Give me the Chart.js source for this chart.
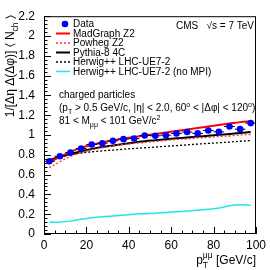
<!doctype html>
<html>
<head>
<meta charset="utf-8">
<script src="https://cdn.jsdelivr.net/npm/chart.js@4.4.0/dist/chart.umd.min.js"></script>
<style>
  html, body { margin: 0; padding: 0; background: #fff; }
  #wrap { width: 270px; height: 270px; }
</style>
</head>
<body>
<div id="wrap"><canvas id="chart" width="270" height="270"></canvas></div>
<script>
// bin centres in pT(mumu), GeV/c
var ptBins = [2.5, 7.5, 12.5, 17.5, 22.5, 27.5, 32.5, 37.5, 42.5, 47.5, 52.5, 57.5, 62.5, 67.5, 72.5, 77.5, 82.5, 87.5, 92.5, 97.5];
var binHalfWidth = 2.5;

var dataVals = [0.734, 0.785, 0.822, 0.863, 0.904, 0.917, 0.941, 0.958, 0.964, 0.995, 0.992, 0.998, 1.016, 1.030, 1.016, 1.046, 1.032, 1.086, 1.059, 1.120];
var dataErr  = [0.008, 0.008, 0.008, 0.008, 0.009, 0.009, 0.010, 0.010, 0.011, 0.011, 0.012, 0.012, 0.013, 0.013, 0.014, 0.014, 0.015, 0.016, 0.017, 0.018];

var madgraph = [0.720, 0.780, 0.830, 0.870, 0.900, 0.925, 0.945, 0.965, 0.980, 0.995, 1.010, 1.025, 1.040, 1.055, 1.070, 1.085, 1.100, 1.115, 1.130, 1.140];
var powheg   = [0.670, 0.730, 0.785, 0.820, 0.850, 0.870, 0.890, 0.905, 0.915, 0.925, 0.935, 0.945, 0.955, 0.960, 0.970, 0.975, 0.985, 0.990, 1.000, 1.005];
var pythia   = [0.745, 0.780, 0.810, 0.835, 0.860, 0.880, 0.895, 0.910, 0.925, 0.937, 0.947, 0.957, 0.966, 0.975, 0.984, 0.993, 1.002, 1.010, 1.020, 1.030];
var herwig   = [0.740, 0.775, 0.800, 0.818, 0.830, 0.840, 0.848, 0.856, 0.864, 0.871, 0.878, 0.886, 0.893, 0.900, 0.908, 0.915, 0.922, 0.929, 0.937, 0.944];
var herwigNoMpi = [0.120, 0.120, 0.130, 0.150, 0.165, 0.175, 0.182, 0.190, 0.200, 0.205, 0.210, 0.218, 0.225, 0.232, 0.240, 0.250, 0.262, 0.285, 0.295, 0.290];

var legendLabels = ['Data', 'MadGraph Z2', 'Powheg Z2', 'Pythia-8 4C', 'Herwig++ LHC-UE7-2', 'Herwig++ LHC-UE7-2 (no MPI)'];

var FONT = '"Liberation Sans", Arial, Helvetica, sans-serif';

function pts(vals) {
    return ptBins.map(function (x, i) { return { x: x, y: vals[i] }; });
}

function lineSet(label, vals, color, width, dash) {
    return {
        label: label, data: pts(vals), borderColor: color, borderWidth: width,
        borderDash: dash || [], pointRadius: 0, tension: 0.35, fill: false
    };
}

// draws text made of normal / sub / sup pieces, starting at x, baseline y
function richText(ctx, parts, x, y, size) {
    parts.forEach(function (p) {
        var s = size, dy = 0;
        if (p.k === 'sub') { s = size * 0.7; dy = size * 0.3; }
        if (p.k === 'sup') { s = size * 0.7; dy = -size * 0.45; }
        ctx.font = s + 'px ' + FONT;
        ctx.fillText(p.t, x, y + dy);
        x += ctx.measureText(p.t).width;
    });
    return x;
}
function richWidth(ctx, parts, size) {
    var w = 0;
    parts.forEach(function (p) {
        var s = (p.k === 'sub' || p.k === 'sup') ? size * 0.7 : size;
        ctx.font = s + 'px ' + FONT;
        w += ctx.measureText(p.t).width;
    });
    return w;
}

var decor = {
    id: 'decor',
    beforeDatasetDraw: function (chart, args) {
        // error bars, under the data markers but above the curves
        if (args.index !== 0) return;
        var ctx = chart.ctx, xs = chart.scales.x, ys = chart.scales.y;
        ctx.save();
        ctx.strokeStyle = '#000';
        ctx.lineWidth = 1;
        ptBins.forEach(function (x, i) {
            var py = ys.getPixelForValue(dataVals[i]);
            var x0 = xs.getPixelForValue(x - binHalfWidth), x1 = xs.getPixelForValue(x + binHalfWidth);
            var y0 = ys.getPixelForValue(dataVals[i] - dataErr[i]), y1 = ys.getPixelForValue(dataVals[i] + dataErr[i]);
            var px = xs.getPixelForValue(x);
            ctx.beginPath();
            ctx.moveTo(x0, py); ctx.lineTo(x1, py);
            ctx.moveTo(px, y0); ctx.lineTo(px, y1);
            ctx.stroke();
        });
        ctx.restore();
    },
    afterDraw: function (chart) {
        var ctx = chart.ctx, a = chart.chartArea, xs = chart.scales.x, ys = chart.scales.y;
        ctx.save();

        // frame
        ctx.strokeStyle = '#000';
        ctx.lineWidth = 1;
        ctx.strokeRect(a.left + 0.5, a.top + 0.5, a.right - a.left - 1, a.bottom - a.top - 1);

        // inward ticks (ROOT style)
        ctx.beginPath();
        for (var v = 0; v <= 100; v += 5) {
            var px = Math.round(xs.getPixelForValue(v)) + 0.5;
            var len = (v % 20 === 0) ? 7 : 3.5;
            ctx.moveTo(px, a.bottom); ctx.lineTo(px, a.bottom - len);
        }
        for (var k = 0; k <= 55; k++) {
            var yv = k * 0.04;
            var py = Math.round(ys.getPixelForValue(yv)) + 0.5;
            var l2 = (k % 5 === 0) ? 7 : 3.5;
            ctx.moveTo(a.left, py); ctx.lineTo(a.left + l2, py);
        }
        ctx.stroke();

        // legend
        ctx.textBaseline = 'middle';
        ctx.textAlign = 'left';
        var ly = [24, 33.5, 43, 52.5, 62, 71.5];
        chart.data.datasets.forEach(function (ds, i) {
            var y = ly[i];
            if (i === 0) {
                ctx.fillStyle = ds.backgroundColor;
                ctx.beginPath(); ctx.arc(65, y, 3.3, 0, Math.PI * 2); ctx.fill();
            } else {
                ctx.strokeStyle = ds.borderColor;
                ctx.lineWidth = ds.borderWidth;
                ctx.setLineDash(ds.borderDash);
                ctx.beginPath(); ctx.moveTo(56, y); ctx.lineTo(70, y); ctx.stroke();
                ctx.setLineDash([]);
            }
            ctx.fillStyle = '#000';
            ctx.font = '10px ' + FONT;
            ctx.fillText(legendLabels[i], 73, y + 0.5);
        });

        // selection text
        ctx.textBaseline = 'alphabetic';
        ctx.fillStyle = '#000';
        richText(ctx, [{ t: 'charged particles' }], 59, 98, 10);
        richText(ctx, [{ t: '(p' }, { t: 'T', k: 'sub' }, { t: ' > 0.5 GeV/c, |\u03b7| < 2.0, 60' }, { t: 'o', k: 'sup' },
            { t: ' < |\u0394\u03c6| < 120' }, { t: 'o', k: 'sup' }, { t: ')' }], 59, 111, 10);
        richText(ctx, [{ t: '81 < M' }, { t: '\u03bc\u03bc', k: 'sub' }, { t: ' < 101 GeV/c' }, { t: '2', k: 'sup' }], 59, 124, 10);

        // CMS label
        var cms = [{ t: 'CMS   \u221as = 7 TeV' }];
        var cw = richWidth(ctx, cms, 10);
        richText(ctx, cms, 254 - cw, 29, 10);

        // x title
        ctx.font = '12px ' + FONT;
        var tail = ' [GeV/c]';
        var tw = ctx.measureText(tail).width;
        var xEnd = a.right;
        ctx.fillText(tail, xEnd - tw, 264);
        ctx.font = '8.5px ' + FONT;
        var sw = ctx.measureText('\u03bc\u03bc').width;
        ctx.fillText('\u03bc\u03bc', xEnd - tw - sw, 258);
        ctx.fillText('T', xEnd - tw - sw, 268);
        ctx.font = '12px ' + FONT;
        ctx.fillText('p', xEnd - tw - sw - ctx.measureText('p').width, 264);

        // y title, rotated, right-aligned to the top of the frame
        var yt = [{ t: '1/[\u0394\u03b7 \u0394(\u0394\u03c6)] \u2329 N' }, { t: 'ch', k: 'sub' }, { t: ' \u232a' }];
        var yw = richWidth(ctx, yt, 12);
        ctx.translate(14, a.top - 1);
        ctx.rotate(-Math.PI / 2);
        richText(ctx, yt, -yw, 0, 12);

        ctx.restore();
    }
};

new Chart(document.getElementById('chart').getContext('2d'), {
    type: 'line',
    data: {
        datasets: [
            { label: legendLabels[0], data: pts(dataVals), showLine: false, pointRadius: 3.3, pointBackgroundColor: '#0000ff', backgroundColor: '#0000ff', pointBorderWidth: 0, borderColor: '#0000ff' },
            lineSet(legendLabels[1], madgraph, '#ff0000', 2),
            lineSet(legendLabels[2], powheg, '#ff3333', 1.3, [2, 2]),
            lineSet(legendLabels[3], pythia, '#000000', 2),
            lineSet(legendLabels[4], herwig, '#000000', 1.3, [2, 2]),
            lineSet(legendLabels[5], herwigNoMpi, '#22e6e6', 1.5)
        ]
    },
    options: {
        responsive: false,
        animation: false,
        devicePixelRatio: 1,
        layout: { padding: { top: 14, right: 11, left: 0, bottom: 0 } },
        plugins: { legend: { display: false }, tooltip: { enabled: false } },
        scales: {
            x: {
                type: 'linear', min: 0, max: 100,
                grid: { display: false, drawTicks: false },
                border: { display: false },
                ticks: { stepSize: 20, padding: 4, color: '#000', font: { family: FONT, size: 12 }, maxRotation: 0 },
                afterFit: function (s) { s.height = 36; }
            },
            y: {
                min: 0, max: 2.2,
                grid: { display: false, drawTicks: false },
                border: { display: false },
                ticks: {
                    stepSize: 0.2, padding: 9, color: '#000', font: { family: FONT, size: 12 },
                    callback: function (v) { return String(+v.toFixed(1)); }
                },
                afterFit: function (s) { s.width = 44; }
            }
        }
    },
    plugins: [decor]
});
</script>
</body>
</html>
